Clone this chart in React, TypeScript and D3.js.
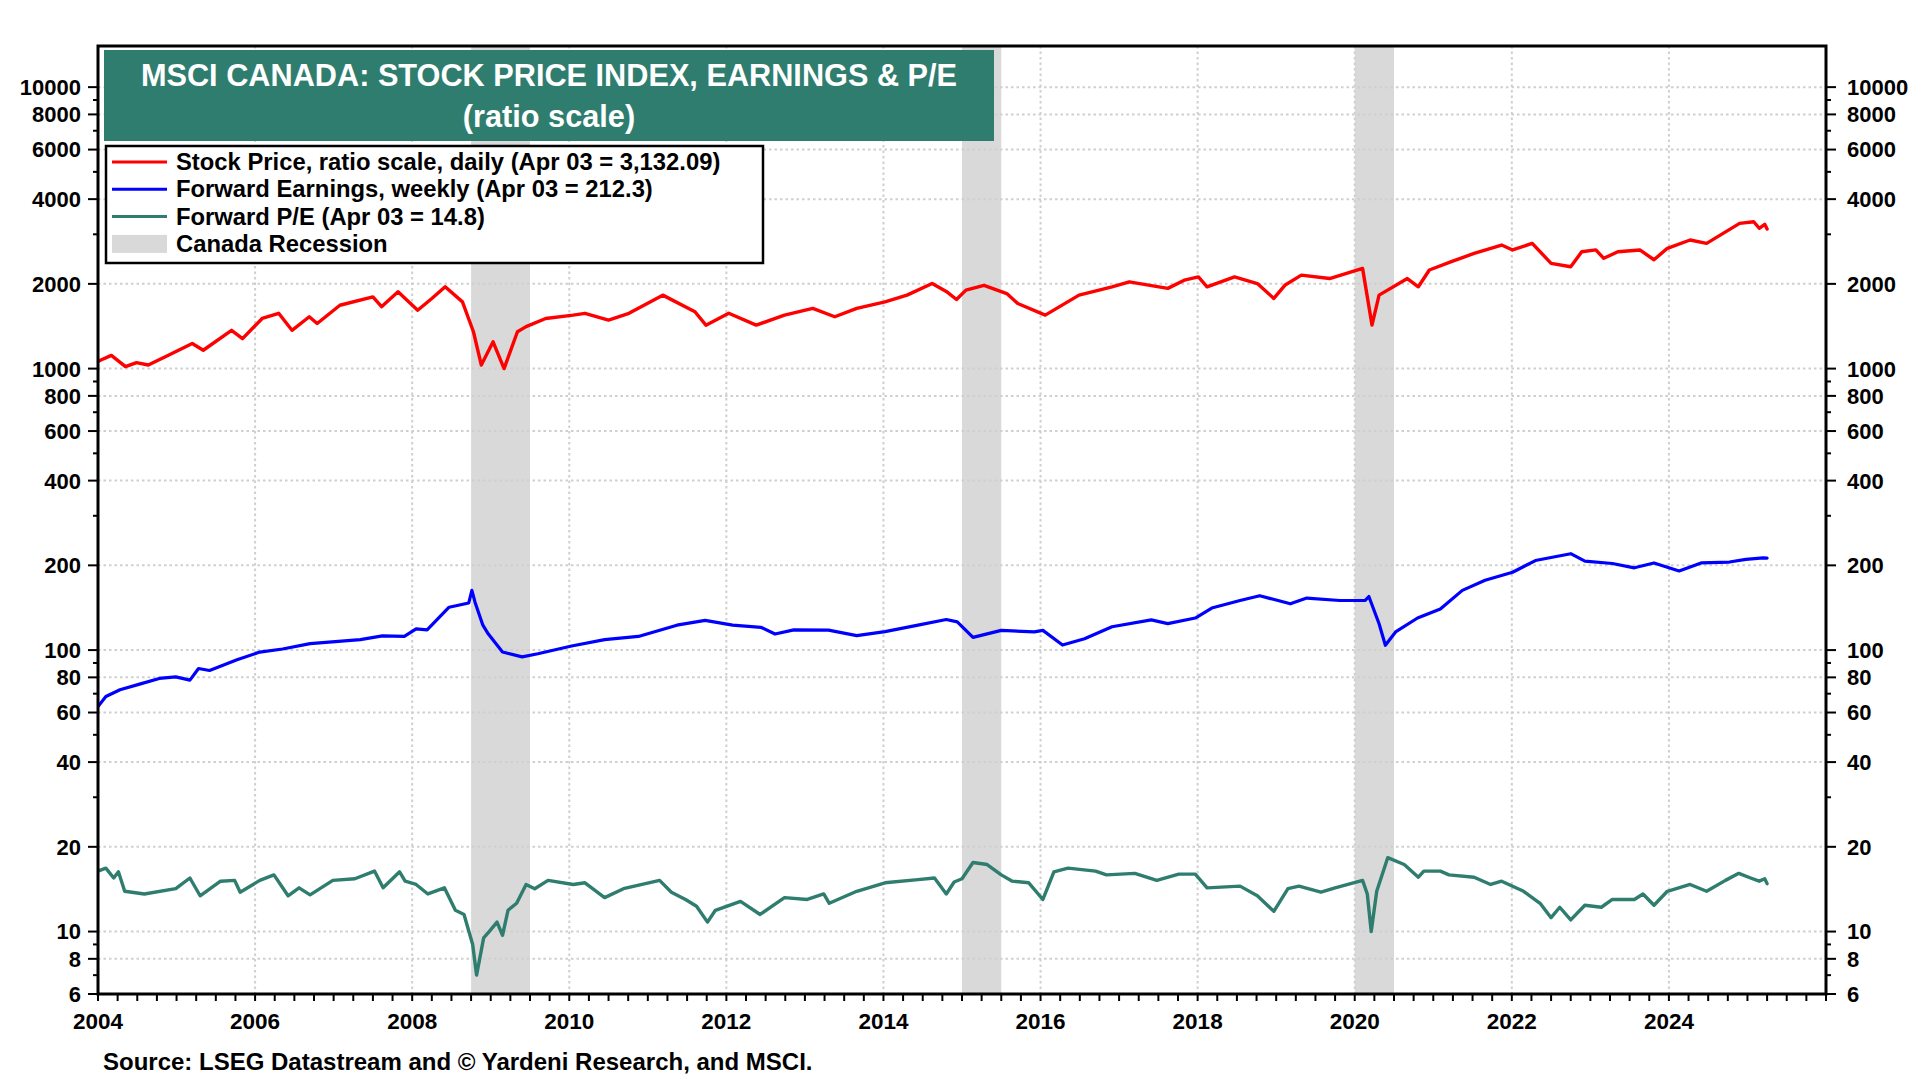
import React from "react";
import * as d3 from "d3";

// ---------- DATA ----------
const stockPrice: [number, number][] = [
  [2004.0, 1060], [2004.03, 1071], [2004.17, 1114], [2004.35, 1016], [2004.49, 1050], [2004.64, 1030],
  [2004.89, 1114], [2005.2, 1228], [2005.34, 1162], [2005.7, 1368], [2005.84, 1278], [2006.09, 1507],
  [2006.3, 1572], [2006.47, 1368], [2006.69, 1528], [2006.79, 1446], [2007.08, 1679], [2007.5, 1798],
  [2007.61, 1659], [2007.82, 1875], [2008.07, 1612], [2008.25, 1775], [2008.42, 1953], [2008.64, 1726],
  [2008.78, 1352], [2008.88, 1030], [2009.03, 1245], [2009.17, 1000], [2009.34, 1352], [2009.45, 1410],
  [2009.7, 1507], [2010.05, 1549], [2010.2, 1572], [2010.5, 1488], [2010.76, 1572], [2011.19, 1824],
  [2011.6, 1592], [2011.74, 1427], [2012.03, 1572], [2012.38, 1427], [2012.74, 1549], [2013.1, 1636],
  [2013.38, 1528], [2013.66, 1636], [2014.02, 1726], [2014.3, 1824], [2014.62, 2005], [2014.8, 1880],
  [2014.93, 1760], [2015.05, 1900], [2015.28, 1977], [2015.57, 1848], [2015.71, 1703],
  [2016.06, 1549], [2016.49, 1824], [2016.91, 1953], [2017.13, 2034], [2017.62, 1928], [2017.83, 2061],
  [2018.01, 2118], [2018.12, 1953], [2018.47, 2118], [2018.76, 2005], [2018.97, 1775], [2019.11, 1977],
  [2019.32, 2148], [2019.68, 2089], [2020.1, 2270], [2020.22, 1427], [2020.31, 1824], [2020.67, 2089],
  [2020.81, 1953], [2020.95, 2240], [2021.23, 2399], [2021.52, 2566], [2021.87, 2748], [2022.01, 2640],
  [2022.26, 2786], [2022.5, 2365], [2022.75, 2300], [2022.89, 2600], [2023.07, 2640], [2023.17, 2465],
  [2023.35, 2600], [2023.63, 2640], [2023.81, 2436], [2023.98, 2675], [2024.27, 2864], [2024.48, 2786],
  [2024.69, 3022], [2024.9, 3281], [2025.08, 3325], [2025.15, 3152], [2025.22, 3255], [2025.25, 3132],
];

const forwardEarnings: [number, number][] = [
  [2004.0, 63], [2004.1, 68.4], [2004.28, 72.3], [2004.53, 75.7], [2004.78, 79.3], [2004.99, 80.3],
  [2005.17, 78.2], [2005.28, 86], [2005.42, 84.6], [2005.77, 92.4], [2006.06, 98.4], [2006.35, 100.9],
  [2006.7, 105.4], [2007.34, 108.9], [2007.62, 112.3], [2007.9, 111.8], [2008.05, 119], [2008.19, 118],
  [2008.47, 142], [2008.72, 147], [2008.76, 163], [2008.8, 148], [2008.9, 122.6], [2008.97, 114],
  [2009.15, 98.4], [2009.4, 94.6], [2009.6, 97], [2010.03, 103.4], [2010.45, 108.9], [2010.88, 111.8],
  [2011.37, 122.6], [2011.73, 127.5], [2012.08, 122.6], [2012.44, 120.5], [2012.62, 114], [2012.86, 118],
  [2013.3, 117.7], [2013.66, 112.6], [2014.02, 116.3], [2014.44, 122.6], [2014.8, 128.4], [2014.94, 126],
  [2015.14, 111], [2015.5, 117.5], [2015.92, 116], [2016.03, 117.5], [2016.28, 104.2], [2016.56, 109.7],
  [2016.91, 121], [2017.41, 128], [2017.62, 124.2], [2017.97, 130], [2018.18, 141], [2018.54, 150],
  [2018.79, 156], [2019.18, 146], [2019.39, 153], [2019.81, 150], [2020.13, 150], [2020.18, 155],
  [2020.31, 124], [2020.39, 104], [2020.52, 116], [2020.8, 130], [2021.09, 140], [2021.37, 163],
  [2021.66, 177], [2022.01, 189], [2022.3, 208], [2022.75, 220], [2022.93, 207], [2023.28, 203],
  [2023.56, 196], [2023.81, 204], [2024.13, 191], [2024.41, 204], [2024.77, 205.5], [2024.98, 210],
  [2025.2, 212.5], [2025.25, 212.3],
];

const forwardPE: [number, number][] = [
  [2004.0, 16.4], [2004.1, 16.8], [2004.2, 15.5], [2004.26, 16.3], [2004.34, 13.9], [2004.59, 13.6],
  [2004.99, 14.2], [2005.17, 15.5], [2005.3, 13.4], [2005.56, 15.1], [2005.74, 15.2], [2005.81, 13.8],
  [2006.06, 15.2], [2006.24, 15.9], [2006.42, 13.4], [2006.56, 14.3], [2006.7, 13.5], [2006.99, 15.2],
  [2007.27, 15.4], [2007.52, 16.4], [2007.63, 14.3], [2007.84, 16.3], [2007.91, 15.1], [2008.05, 14.7],
  [2008.2, 13.6], [2008.41, 14.3], [2008.55, 11.9], [2008.66, 11.5], [2008.77, 9.0], [2008.82, 7.0],
  [2008.91, 9.5], [2008.98, 10], [2009.08, 10.8], [2009.15, 9.7], [2009.22, 11.9], [2009.33, 12.6],
  [2009.45, 14.7], [2009.56, 14.2], [2009.73, 15.2], [2010.05, 14.7], [2010.2, 14.9], [2010.45, 13.2],
  [2010.69, 14.2], [2011.15, 15.2], [2011.3, 13.8], [2011.48, 13], [2011.62, 12.3], [2011.76, 10.8],
  [2011.86, 11.9], [2012.18, 12.8], [2012.43, 11.5], [2012.74, 13.2], [2013.03, 13], [2013.24, 13.6],
  [2013.31, 12.6], [2013.66, 13.9], [2014.02, 14.9], [2014.44, 15.3], [2014.65, 15.5], [2014.8, 13.6],
  [2014.9, 15.0], [2015.0, 15.4], [2015.14, 17.6], [2015.32, 17.3], [2015.5, 15.9], [2015.64, 15.1],
  [2015.85, 14.9], [2016.03, 13], [2016.17, 16.3], [2016.35, 16.8], [2016.7, 16.4], [2016.84, 15.9],
  [2017.2, 16.1], [2017.48, 15.2], [2017.76, 16], [2017.97, 16], [2018.12, 14.3], [2018.54, 14.5],
  [2018.76, 13.4], [2018.97, 11.8], [2019.15, 14.2], [2019.29, 14.5], [2019.57, 13.8], [2019.75, 14.3],
  [2020.1, 15.2], [2020.16, 13.6], [2020.21, 10], [2020.28, 13.9], [2020.42, 18.3], [2020.63, 17.3],
  [2020.81, 15.6], [2020.88, 16.4], [2021.09, 16.4], [2021.2, 15.9], [2021.52, 15.6], [2021.73, 14.7],
  [2021.87, 15.1], [2022.15, 13.9], [2022.36, 12.6], [2022.5, 11.2], [2022.61, 12.2], [2022.75, 11],
  [2022.93, 12.4], [2023.14, 12.2], [2023.28, 13], [2023.56, 13], [2023.67, 13.6], [2023.81, 12.4],
  [2023.98, 13.9], [2024.27, 14.7], [2024.48, 13.9], [2024.72, 15.2], [2024.89, 16.1], [2025.04, 15.5],
  [2025.15, 15.1], [2025.22, 15.4], [2025.25, 14.8],
];

const recessions: [number, number][] = [
  [2008.75, 2009.5],
  [2015.0, 2015.5],
  [2020.0, 2020.5],
];

const yTickLabels = [10000, 8000, 6000, 4000, 2000, 1000, 800, 600, 400, 200, 100, 80, 60, 40, 20, 10, 8, 6];
const xYearLabels = [2004, 2006, 2008, 2010, 2012, 2014, 2016, 2018, 2020, 2022, 2024];

const titleLines = ["MSCI CANADA: STOCK PRICE INDEX, EARNINGS & P/E", "(ratio scale)"];
const legendItems = [
  { label: "Stock Price, ratio scale, daily (Apr 03 = 3,132.09)", color: "#FF0000", kind: "line" },
  { label: "Forward Earnings, weekly (Apr 03 = 212.3)", color: "#0000FF", kind: "line" },
  { label: "Forward P/E (Apr 03 = 14.8)", color: "#2E7D6E", kind: "line" },
  { label: "Canada Recession", color: "#D9D9D9", kind: "box" },
];
const sourceText = "Source: LSEG Datastream and \u00A9 Yardeni Research, and MSCI.";

// ---------- LAYOUT ----------
const W = 1920, H = 1080;
const L = 98, R = 1826, T = 46, B = 994;
const FONT = "'Liberation Sans', Arial, Helvetica, sans-serif";
const TEAL = "#2E7D6E";

export default function App() {
  const x = d3.scaleLinear().domain([2004, 2026]).range([L, R]);
  const y = d3.scaleLog().domain([6, 14000]).range([B, T]);

  const line = d3
    .line<[number, number]>()
    .x((d) => x(d[0]))
    .y((d) => y(d[1]));

  const minorY: number[] = [];
  for (let p = 0; p <= 4; p++) {
    for (let k = 1; k <= 9; k++) {
      const v = k * Math.pow(10, p);
      if (v >= 6 && v <= 14000) minorY.push(v);
    }
  }
  const majorSet = new Set(yTickLabels);
  const qTicks: number[] = d3.range(2004, 2026.001, 0.25);
  const gridYears = xYearLabels.filter((v) => v > 2004);
  const gridVals = yTickLabels.filter((v) => v > 6);

  return (
    <svg
      width={W}
      height={H}
      style={{ position: "absolute", left: 0, top: 0, background: "#fff" }}
      fontFamily={FONT}
    >
      <defs>
        <clipPath id="plot">
          <rect x={L} y={T} width={R - L} height={B - T} />
        </clipPath>
      </defs>
      <rect x={0} y={0} width={W} height={H} fill="#fff" />

      {recessions.map(([a, b], i) => (
        <rect key={i} x={x(a)} y={T} width={x(b) - x(a)} height={B - T} fill="#D9D9D9" />
      ))}

      <g stroke="#CFCFCF" strokeWidth={2} strokeDasharray="2.5 3">
        {gridYears.map((v) => (
          <line key={"gx" + v} x1={x(v)} x2={x(v)} y1={T} y2={B} />
        ))}
        {gridVals.map((v) => (
          <line key={"gy" + v} x1={L} x2={R} y1={y(v)} y2={y(v)} />
        ))}
      </g>

      <g clipPath="url(#plot)" fill="none" strokeLinejoin="round" strokeLinecap="round">
        <path d={line(forwardPE) || ""} stroke={TEAL} strokeWidth={3.4} />
        <path d={line(forwardEarnings) || ""} stroke="#0000FF" strokeWidth={3.2} />
        <path d={line(stockPrice) || ""} stroke="#FF0000" strokeWidth={3.4} />
      </g>

      <rect x={104} y={50} width={890} height={91} fill={TEAL} />
      <text x={549} y={86} textAnchor="middle" fill="#fff" fontSize={30.7} fontWeight="bold">
        {titleLines[0]}
      </text>
      <text x={549} y={127} textAnchor="middle" fill="#fff" fontSize={30.7} fontWeight="bold">
        {titleLines[1]}
      </text>

      <rect x={106} y={146} width={657} height={117} fill="#fff" stroke="#000" strokeWidth={2.5} />
      {legendItems.map((it, i) => {
        const cy = 162 + i * 27.3;
        return (
          <g key={it.label}>
            {it.kind === "line" ? (
              <line x1={112} x2={167} y1={cy} y2={cy} stroke={it.color} strokeWidth={3} />
            ) : (
              <rect x={112} y={cy - 9} width={55} height={18} fill={it.color} />
            )}
            <text x={176} y={cy + 8} fontSize={23.8} fontWeight="bold" fill="#000">
              {it.label}
            </text>
          </g>
        );
      })}

      <rect x={L} y={T} width={R - L} height={B - T} fill="none" stroke="#000" strokeWidth={3} />

      <g stroke="#000" strokeWidth={2}>
        {minorY.map((v) => {
          const len = majorSet.has(v) ? 10 : 5;
          return (
            <g key={"t" + v}>
              <line x1={L - len} x2={L} y1={y(v)} y2={y(v)} />
              <line x1={R} x2={R + len} y1={y(v)} y2={y(v)} />
            </g>
          );
        })}
        {qTicks.map((v) => (
          <line key={"q" + v} x1={x(v)} x2={x(v)} y1={B} y2={B + 7} />
        ))}
      </g>

      <g fontSize={22} fontWeight="bold" fill="#000">
        {yTickLabels.map((v) => (
          <g key={"l" + v}>
            <text x={81} y={y(v)} dy="0.36em" textAnchor="end">
              {v}
            </text>
            <text x={1847} y={y(v)} dy="0.36em" textAnchor="start">
              {v}
            </text>
          </g>
        ))}
      </g>

      <g fontSize={22.5} fontWeight="bold" fill="#000">
        {xYearLabels.map((v) => (
          <text key={"xl" + v} x={x(v)} y={1029} textAnchor="middle">
            {v}
          </text>
        ))}
      </g>

      <text x={103} y={1070} fontSize={24} fontWeight="bold" fill="#000">
        {sourceText}
      </text>
    </svg>
  );
}
